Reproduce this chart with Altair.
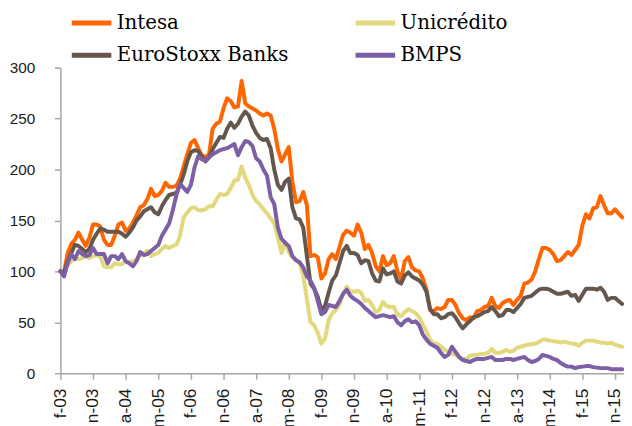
import altair as alt
import pandas as pd

tick_labels = ["f-03", "n-03", "a-04", "m-05", "f-06", "n-06", "a-07", "m-08", "f-09",
               "n-09", "a-10", "m-11", "f-12", "n-12", "a-13", "m-14", "f-15", "n-15"]
# drawing order (Excel series order)
series = ["Intesa", "Unicrédito", "EuroStoxx Banks", "BMPS"]
# legend order (filled column by column)
legend_order = ["Intesa", "EuroStoxx Banks", "Unicrédito", "BMPS"]
legend_colors = ["#FF6600", "#65574D", "#E2D87E", "#7D5FA6"]

intesa = [100, 99, 118, 127, 131, 138, 131, 125, 133, 146,
          146, 144, 131, 126, 126, 135, 146, 148, 140, 142,
          148, 155, 163, 165, 171, 181, 174, 175, 179, 187,
          183, 183, 184, 191, 203, 215, 226, 229, 221, 214,
          212, 215, 240, 245, 247, 260, 270, 267, 261, 262,
          287, 265, 262, 260, 258, 255, 253, 255, 253, 240,
          220, 208, 215, 222, 188, 168, 169, 178, 165, 115,
          116, 114, 93, 98, 112, 117, 112, 124, 136, 140,
          138, 135, 146, 138, 122, 126, 118, 105, 100, 115,
          106, 108, 115, 100, 92, 110, 114, 104, 101, 100,
          93, 82, 62, 61, 64, 63, 65, 72, 72, 67,
          59, 54, 52, 55, 54, 61, 62, 65, 66, 74,
          66, 64, 69, 71, 72, 67, 72, 76, 88, 89,
          92, 100, 112, 123, 123, 121, 117, 110, 111, 115,
          119, 116, 121, 126, 145, 156, 152, 162, 163, 174,
          165, 157, 157, 161, 157, 153]

unicredito = [100, 101, 106, 110, 113, 112, 113, 115, 113, 115,
              116, 114, 105, 104, 104, 108, 107, 107, 110, 109,
              110, 112, 115, 118, 120, 115, 117, 118, 122, 125,
              123, 125, 126, 135, 153, 158, 162, 163, 160, 160,
              161, 164, 164, 170, 176, 175, 176, 182, 189, 190,
              203, 192, 185, 175, 169, 166, 161, 157, 152, 147,
              133, 118, 129, 119, 114, 111, 108, 96, 73, 50,
              47, 40, 29, 34, 52, 59, 62, 67, 78, 85,
              80, 80, 81, 79, 71, 72, 67, 60, 62, 70,
              66, 65, 65, 58, 56, 60, 63, 61, 59, 55,
              48, 41, 33, 29, 29, 26, 23, 21, 19, 18,
              16, 14, 14, 17, 18, 18, 19, 19, 20, 24,
              20, 20, 21, 23, 21, 22, 25, 26, 27, 28,
              28.5, 29, 30.5, 33, 33, 32, 31.5, 31, 30, 31,
              30, 29, 29, 27, 30, 32, 32, 32, 31, 30,
              30, 29, 30, 28, 27, 26]

eurostoxx = [100, 99, 110, 118, 126, 125, 122, 119, 122, 131,
             137, 142, 141, 139, 139, 139, 139, 137, 134, 138,
             143, 150, 154, 159, 161, 163, 158, 156, 164, 170,
             175, 176, 177, 185, 195, 208, 217, 219, 218, 213,
             208, 212, 220, 226, 232, 231, 240, 246, 241, 245,
             252, 257, 253, 243, 236, 231, 229, 230, 221, 200,
             185, 180, 188, 191, 163, 152, 151, 143, 115, 88,
             83, 75, 62, 66, 79, 91, 96, 108, 120, 125,
             118, 118, 116, 108, 111, 110, 98, 91, 90, 103,
             97, 98, 100, 90, 88, 96, 99, 95, 93, 91,
             87, 80, 63, 58, 58, 54, 55, 58, 59, 55,
             49, 44, 48, 51, 55, 56, 58, 60, 61, 65,
             61, 56, 57, 62, 62, 60, 64, 68, 74, 75,
             76, 79, 82, 83, 83, 82, 80, 78, 78, 79,
             80, 76, 77, 71, 77, 83, 83, 83, 82, 84,
             80, 72, 74, 74, 71, 68]

bmps = [100, 95, 108, 117, 112, 120, 117, 115, 116, 123,
        117, 117, 117, 108, 115, 115, 112, 117, 110, 108,
        105, 110, 119, 116, 117, 120, 123, 126, 135, 141,
        147, 160, 175, 186, 182, 178, 185, 202, 213, 210,
        209, 212, 215, 217, 219, 220, 221, 223, 225, 214,
        222, 228, 227, 223, 211, 208, 200, 194, 173, 166,
        143, 132, 128, 125, 115, 111, 109, 104, 95, 91,
        84, 71, 58, 60, 67, 66, 65, 71, 78, 82,
        76, 73, 71, 68, 64, 61, 58, 55, 56, 57,
        56, 55, 56, 50, 47, 51, 53, 50, 51, 47,
        38, 33, 29, 27, 25, 20, 16, 18, 26, 21,
        16, 13, 12, 11, 13, 14, 14, 14, 15, 16,
        13, 13, 13, 14, 14, 13, 14, 15, 16, 13,
        11, 12, 14, 18, 17, 16, 14, 13, 10, 8,
        6.5, 6.5, 5, 6, 6.5, 7, 7, 6, 5.5, 5,
        5, 5, 4, 4, 4, 4]

rows = []
for name, vals in zip(series, [intesa, unicredito, eurostoxx, bmps]):
    for m, v in enumerate(vals):
        rows.append({"m": m, "v": v, "s": name})
df = pd.DataFrame(rows)

label_array = "[" + ",".join("'" + t + "'" for t in tick_labels) + "]"

x_enc = alt.X(
    "m:Q",
    scale=alt.Scale(domain=[0, 155.5], nice=False, zero=False),
    axis=alt.Axis(values=list(range(0, 154, 9)),
                  labelExpr=label_array + "[round(datum.value / 9)]",
                  labelAngle=270, labelPadding=9, labelFontSize=17.5),
    title=None,
)
y_enc = alt.Y(
    "v:Q",
    scale=alt.Scale(domain=[0, 300], nice=False),
    axis=alt.Axis(values=[0, 50, 100, 150, 200, 250, 300], labelPadding=20),
    title=None,
)
color_enc = alt.Color(
    "s:N",
    scale=alt.Scale(domain=legend_order, range=legend_colors),
    legend=alt.Legend(
        orient="none", legendX=9, legendY=-68, columns=2,
        symbolType="stroke", symbolSize=1600, symbolStrokeWidth=5,
        labelFont="DejaVu Serif", labelFontSize=20, labelColor="#000000",
        labelOffset=3, rowPadding=-2, columnPadding=57, labelLimit=300,
    ),
    title=None,
)

base = alt.Chart(df)
layers = [
    base.transform_filter(alt.datum.s == name)
    .mark_line(strokeWidth=4, strokeJoin="round", strokeCap="round")
    .encode(x=x_enc, y=y_enc, color=color_enc)
    for name in series
]

chart = (
    alt.layer(*layers)
    .properties(width=570, height=309,
                padding={"left": 53, "top": 58, "right": 0, "bottom": 51},
                autosize=alt.AutoSizeParams(type="none"))
    .configure_view(stroke=None)
    .configure_axis(
        grid=False, domainColor="#A6A6A6", domainWidth=1.5,
        tickColor="#A6A6A6", tickWidth=1.5, tickSize=6,
        labelFont="Liberation Sans", labelFontSize=15.5, labelColor="#1A1A1A",
    )
)

chart.save("out.html", embed_options={"renderer": "svg", "actions": False})
